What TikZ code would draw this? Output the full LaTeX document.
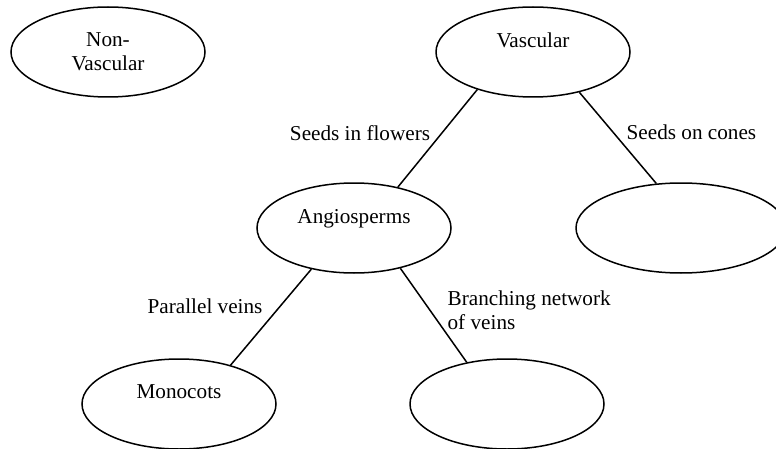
\documentclass[tikz,border=0pt]{standalone}
\usepackage{fontspec}
\setmainfont{Liberation Serif}
\usetikzlibrary{shapes.geometric}

\tikzset{
	blob/.style={ellipse,draw,line width=.75pt,minimum width=97pt,minimum height=45pt,align=center,inner sep=0pt},
	link/.style={line width=.75pt},
}

\begin{document}
\begin{tikzpicture}[x=.5pt,y=-.5pt,font=\fontsize{10.6}{12}\selectfont]
	\useasboundingbox (0,0) rectangle (776,449);
	% the ovals
	\node[blob] (nonvasc) at (108,52) {Non-\\Vascular};
	\node[blob] (vasc) at (533,52) {Vascular\\~};
	\node[blob] (angio) at (354,228) {Angiosperms\\~};
	\node[blob,minimum width=105pt] (gymno) at (681,228) {};
	\node[blob] (mono) at (179,404) {Monocots\\~};
	\node[blob] (dicot) at (507,404) {};
	% the links
	\draw[link] (vasc.214) -- (angio.43)
		node[pos=.45,left=2pt] {Seeds in flowers};
	\draw[link] (vasc.319) -- (gymno.119)
		node[pos=.44,right=3pt] {Seeds on cones};
	\draw[link] (angio.224) -- (mono.37)
		node[pos=.39,left=5pt] {Parallel veins};
	\draw[link] (angio.319) -- (dicot.134)
		node[pos=.45,right=5pt,align=left] {Branching network\\of veins};
\end{tikzpicture}
\end{document}
